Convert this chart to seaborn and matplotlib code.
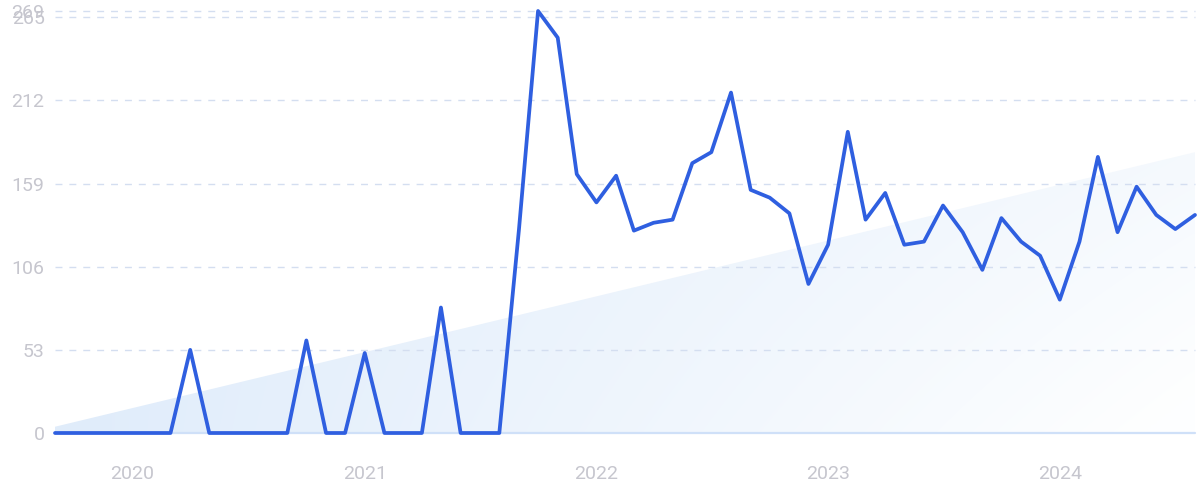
import numpy as np
import pandas as pd
import matplotlib
matplotlib.use("Agg")
import matplotlib.pyplot as plt
import matplotlib.dates as mdates
import seaborn as sns

# ---- data ----
months = pd.date_range("2019-09-01", periods=60, freq="MS")
values = [0, 0, 0, 0, 0, 0, 0, 53, 0, 0,
          0, 0, 0, 59, 0, 0, 51, 0, 0, 0,
          80, 0, 0, 0, 130, 269, 252, 165, 147, 164,
          129, 134, 136, 172, 179, 217, 155, 150, 140, 95,
          120, 192, 136, 153, 120, 122, 145, 128, 104, 137,
          122, 113, 85, 122, 176, 128, 157, 139, 130, 139]
trend_ends = [4, 179]
ytick_values = [0, 53, 106, 159, 212, 265, 269]
year_labels = ["2020", "2021", "2022", "2023", "2024"]

df = pd.DataFrame({"month": months, "value": values})

sns.set_theme(style="white")
plt.rcParams["font.family"] = ["Roboto", "DejaVu Sans"]

fig = plt.figure(figsize=(12, 4.99), dpi=100)
ax = fig.add_axes([55 / 1200, 66 / 499, 1140 / 1200, 422 / 499])

# trend area with gradient
tdf = pd.DataFrame({"month": [months[0], months[-1]], "value": trend_ends})
poly = ax.fill_between(tdf["month"], 0, tdf["value"], color="none", lw=0)
x0 = mdates.date2num(months[0])
x1 = mdates.date2num(months[-1])
ny, nx = 200, 400
xs = np.linspace(0, 1, nx)[None, :]
ys = np.linspace(0, 1, ny)[:, None]
t = np.clip(0.75 * xs + 0.35 * xs * (1 - ys) - 0.05, 0, 1)
c0 = np.array([0.882, 0.929, 0.984])
c1 = np.array([0.995, 0.998, 1.0])
img = c0[None, None, :] * (1 - t[..., None]) + c1[None, None, :] * t[..., None]
im = ax.imshow(img, extent=[x0, x1, 0, max(trend_ends)], origin="lower",
               aspect="auto", zorder=0, interpolation="bilinear")
im.set_clip_path(poly.get_paths()[0], transform=ax.transData)

# gridlines
for v in ytick_values[1:]:
    ax.axhline(v, color="#d4def0", lw=1, ls=(0, (5, 5)), zorder=1)
ax.axhline(0, color="#cfe0f8", lw=1.6, zorder=1)

sns.lineplot(data=df, x="month", y="value", ax=ax, color="#2f5fe0",
             lw=2.7, zorder=3, clip_on=False)
for ln in ax.lines:
    ln.set_clip_on(False)
    ln.set_solid_joinstyle("round")

ax.set_xlim(months[0], months[-1])
ax.set_ylim(0, 269)
ax.set_yticks(ytick_values)
ax.set_yticklabels([str(v) for v in ytick_values])
ax.set_xticks([pd.Timestamp(f"{y}-01-01") for y in year_labels])
ax.set_xticklabels(year_labels)
ax.tick_params(axis="both", length=0, labelsize=14, labelcolor="#c6c6ce")
ax.tick_params(axis="x", pad=23)
ax.tick_params(axis="y", pad=7.5)
ax.set_xlabel("")
ax.set_ylabel("")
for s in ax.spines.values():
    s.set_visible(False)
ax.set_facecolor("none")

fig.savefig("out.png", dpi=100, facecolor="white")
